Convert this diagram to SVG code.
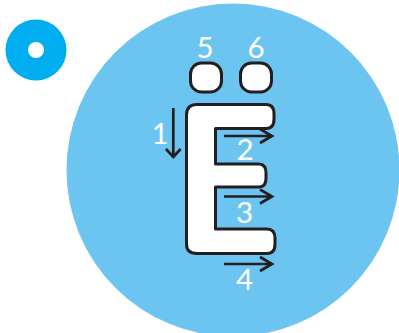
<svg xmlns="http://www.w3.org/2000/svg" width="399" height="333" viewBox="0 0 399 333">
<style>
.o{fill:#fff;stroke:#231f20;stroke-width:3;stroke-linejoin:round}
.a{fill:none;stroke:#231f20;stroke-width:2.7}
.t{font-family:Lato,"Open Sans","Liberation Sans",sans-serif;font-size:29.500px;fill:#fff;text-anchor:middle}
</style>
<rect width="399" height="333" fill="#fff"/>
<circle cx="233" cy="170" r="166.500" fill="#6cc5f1"/>
<g id="badge"><circle cx="36" cy="50" r="30.500" fill="#00aeef"/><circle cx="36" cy="50" r="8" fill="#fff"/></g>
<g id="letter">
<path class="o" d="M197 104.500H266Q274 104.500 274 114V119Q274 128.500 266 128.500H215.500V164H259Q266 164 266 173V178Q266 187 259 187H215.500V229H267Q275 229 275 238V244Q275 253.500 267 253.500H197Q186.500 253.500 186.500 244V115Q186.500 104.500 197 104.500Z"/>
</g>
<g id="dot5"><rect class="o" x="190.500" y="63" width="31" height="29" rx="11"/><text class="t" x="205" y="57.500">5</text></g>
<g id="dot6"><rect class="o" x="240.500" y="63" width="31" height="29" rx="11"/><text class="t" x="256" y="57.500">6</text></g>
<g id="connectors">
<path class="a" d="M173.300 108V157M166 149L173.300 157L180.600 149"/>
<path class="a" d="M224 136H272M260 129L272 136L260 143"/>
<path class="a" d="M224 196.500H272M260 189.500L272 196.500L260 203.500"/>
<path class="a" d="M224 264H272M260 257L272 264L260 271"/>
</g>
<g id="labels">
<text class="t" x="160" y="143.500">1</text>
<text class="t" x="245" y="160">2</text>
<text class="t" x="244.500" y="223">3</text>
<text class="t" x="244.500" y="289.500">4</text>
</g>
</svg>
